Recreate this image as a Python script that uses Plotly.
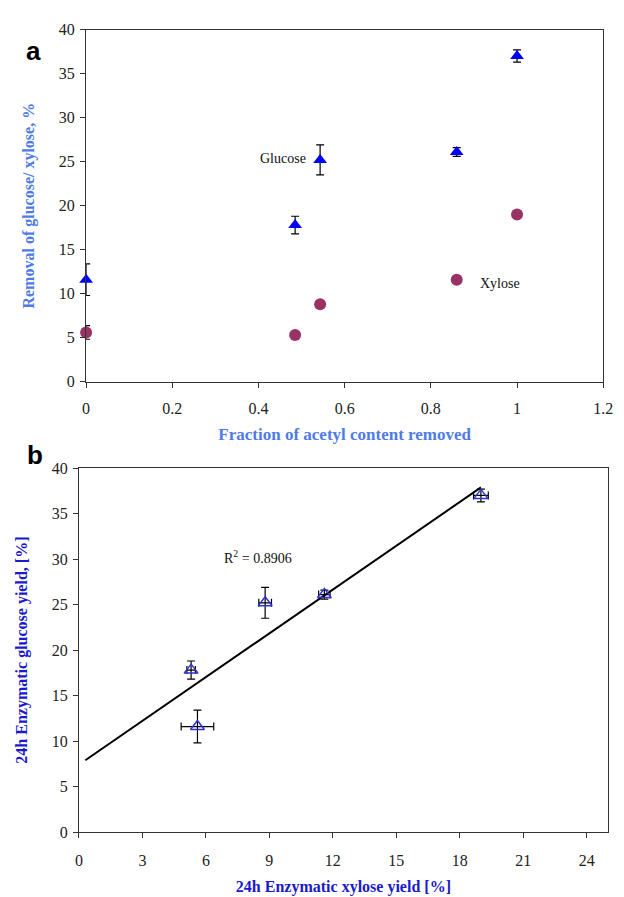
import numpy as np
import plotly.graph_objects as go

# ---- data ----
acetyl_removed = [0.0, 0.485, 0.543, 0.86, 1.0]
glucose_removal = [11.6, 17.8, 25.2, 26.1, 37.0]
glucose_err = [1.8, 1.0, 1.7, 0.5, 0.7]
xylose_removal = [5.6, 5.3, 8.8, 11.6, 19.0]
xylose_err = [0.77, 0.2, 0.3, 0.27, 0.35]
trend_x_range = [0.3, 19.0]
r2_text = "R<sup>2</sup> = 0.8906"

a_yticks = [0, 5, 10, 15, 20, 25, 30, 35, 40]
a_xticks = [0, 0.2, 0.4, 0.6, 0.8, 1.0, 1.2]
a_xticklabels = ["0", "0.2", "0.4", "0.6", "0.8", "1", "1.2"]
b_xticks = [0, 3, 6, 9, 12, 15, 18, 21, 24]
b_yticks = [0, 5, 10, 15, 20, 25, 30, 35, 40]

# linear fit for panel b
slope, intercept = np.polyfit(xylose_removal, glucose_removal, 1)
tx = np.array(trend_x_range)
ty = slope * tx + intercept

W, H = 624, 897
serif = "Liberation Serif"

fig = go.Figure()

# Panel a
fig.add_trace(go.Scatter(
    x=acetyl_removed, y=glucose_removal, mode="markers", cliponaxis=False,
    error_y=dict(type="data", array=glucose_err, color="black", thickness=1.2, width=4),
    marker=dict(symbol="triangle-up", size=12, color="#0000ff"),
    xaxis="x", yaxis="y", showlegend=False))
fig.add_trace(go.Scatter(
    x=acetyl_removed, y=xylose_removal, mode="markers", cliponaxis=False,
    error_y=dict(type="data", array=xylose_err, color="black", thickness=1.2, width=4),
    marker=dict(symbol="circle", size=12, color="#993366"),
    xaxis="x", yaxis="y", showlegend=False))

# Panel b
fig.add_trace(go.Scatter(
    x=tx, y=ty, mode="lines", line=dict(color="black", width=2),
    xaxis="x2", yaxis="y2", showlegend=False, hoverinfo="skip"))
fig.add_trace(go.Scatter(
    x=xylose_removal, y=glucose_removal, mode="markers", cliponaxis=False,
    error_y=dict(type="data", array=glucose_err, color="black", thickness=1.2, width=4),
    error_x=dict(type="data", array=xylose_err, color="black", thickness=1.2, width=4),
    marker=dict(symbol="triangle-up-open", size=12, color="#3333cc", line=dict(width=1.5)),
    xaxis="x2", yaxis="y2", showlegend=False))

axis_common = dict(showgrid=False, zeroline=False, showline=True, linecolor="#333",
                   linewidth=1.2, mirror=True, ticks="outside", ticklen=5,
                   tickcolor="#333", tickfont=dict(family=serif, size=16, color="#222"))

fig.update_layout(
    width=W, height=H, margin=dict(l=0, r=0, t=0, b=0),
    paper_bgcolor="white", plot_bgcolor="white",
    xaxis=dict(**axis_common, domain=[84 / W, 613 / W], range=[0, 1.2],
               tickvals=a_xticks, ticktext=a_xticklabels, anchor="y",
               ticklabelstandoff=7,
               title=dict(text="<b>Fraction of acetyl content removed</b>",
                          font=dict(family=serif, size=17, color="#4f7be8"), standoff=12)),
    yaxis=dict(**axis_common, domain=[1 - 381 / H, 1 - 22 / H], range=[0, 40],
               tickvals=a_yticks, anchor="x", ticklabelstandoff=2,
               title=dict(text="<b>Removal of glucose/ xylose, %</b>",
                          font=dict(family=serif, size=16, color="#4f7be8"), standoff=20)),
    xaxis2=dict(**axis_common, domain=[76.7 / W, 617.7 / W], range=[0, 25],
                tickvals=b_xticks, anchor="y2", ticklabelstandoff=9,
                title=dict(text="<b>24h Enzymatic xylose yield [%]</b>",
                           font=dict(family=serif, size=16, color="#1a1acc"), standoff=12)),
    yaxis2=dict(**axis_common, domain=[1 - 840 / H, 1 - 469 / H], range=[0, 40],
                tickvals=b_yticks, anchor="x2", ticklabelstandoff=2,
                title=dict(text="<b>24h Enzymatic glucose yield, [%]</b>",
                           font=dict(family=serif, size=16, color="#1a1acc"), standoff=20)),
    annotations=[
        dict(text="Glucose", x=0.457, y=25.4, xref="x", yref="y", showarrow=False,
             font=dict(family=serif, size=14, color="#111")),
        dict(text="Xylose", x=0.96, y=11.2, xref="x", yref="y", showarrow=False,
             font=dict(family=serif, size=14, color="#111")),
        dict(text=r2_text, x=8.46, y=30.2, xref="x2", yref="y2", showarrow=False,
             font=dict(family=serif, size=14, color="#111")),
        dict(text="<b>a</b>", x=20 / W, y=1 - 27 / H, xref="paper", yref="paper",
             showarrow=False, font=dict(family="Liberation Sans", size=26, color="black")),
        dict(text="<b>b</b>", x=21 / W, y=1 - 456 / H, xref="paper", yref="paper",
             showarrow=False, font=dict(family="Liberation Sans", size=26, color="black")),
    ],
)

fig.write_html("out.html")
